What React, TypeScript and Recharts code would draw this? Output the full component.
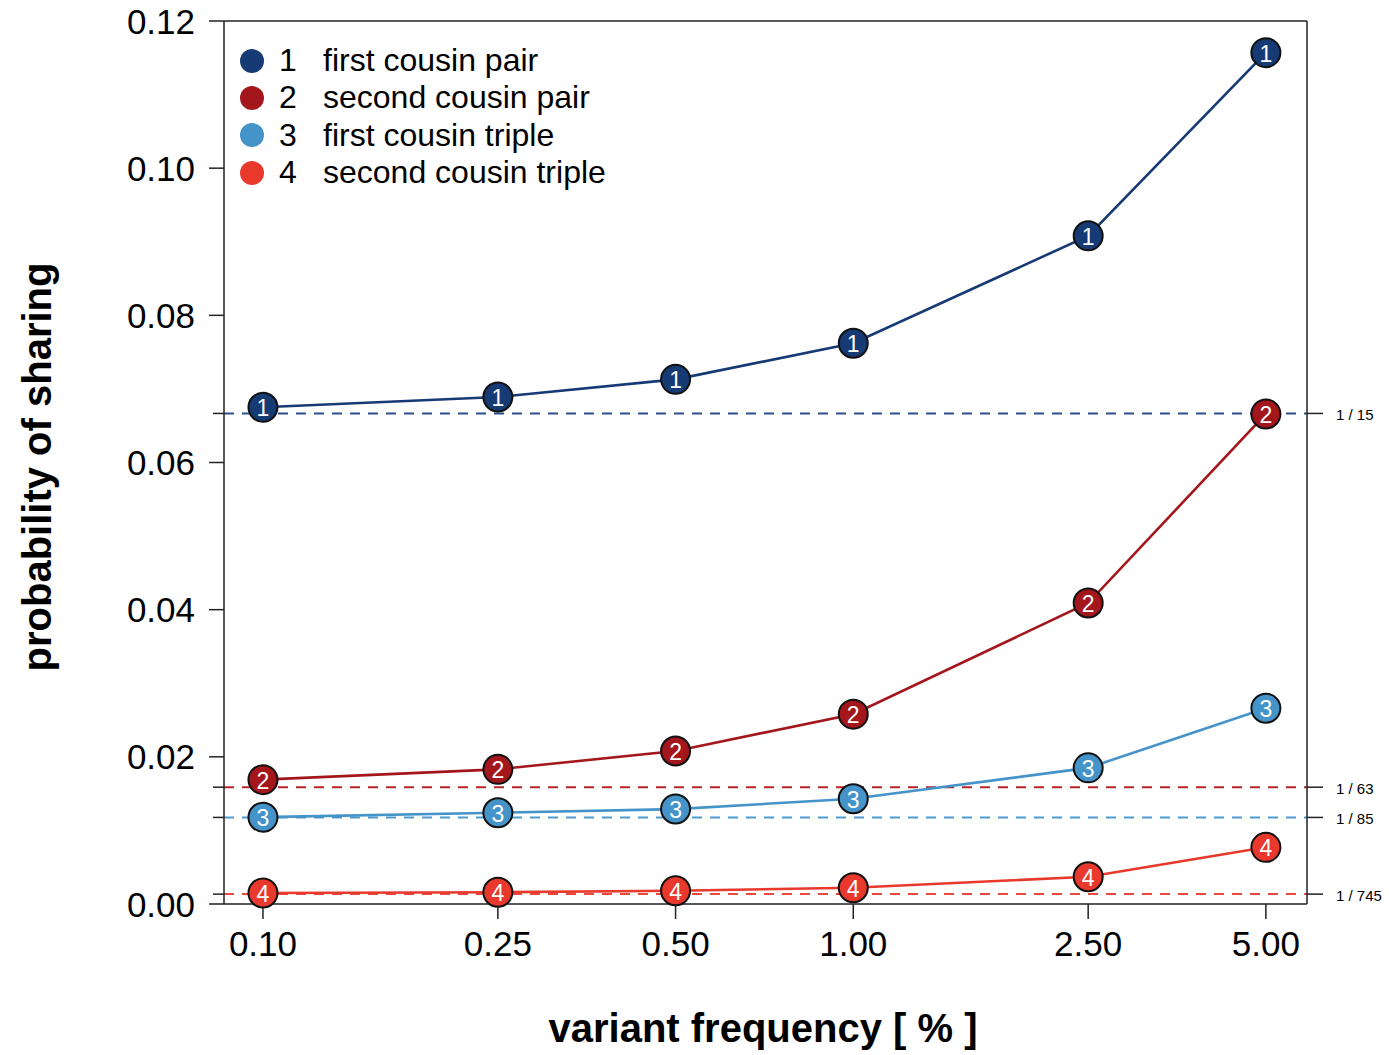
import { LineChart, Line, XAxis, YAxis, ReferenceLine, Legend } from 'recharts'

const freqs = [0.1, 0.25, 0.5, 1, 2.5, 5]
const firstCousinPair = [0.0675, 0.0689, 0.0713, 0.0762, 0.0908, 0.1157]
const secondCousinPair = [0.0169, 0.0183, 0.0208, 0.0258, 0.0409, 0.0666]
const firstCousinTriple = [0.0118, 0.0124, 0.0129, 0.0143, 0.0185, 0.0266]
const secondCousinTriple = [0.0015, 0.0016, 0.0018, 0.0022, 0.0037, 0.0077]

const yTicks = [0, 0.02, 0.04, 0.06, 0.08, 0.1, 0.12]
const refDenoms = [15, 63, 85, 745]
const refValues = refDenoms.map((d) => 1 / d)

const seriesNames = ['first cousin pair', 'second cousin pair', 'first cousin triple', 'second cousin triple']
const seriesKeys = ['s1', 's2', 's3', 's4']
const colors = ['#163a74', '#a3161c', '#4493c9', '#e8392c']
const refColors = ['#2c4d8c', '#b5252a', '#4c9bd0', '#ea4a3e']

const data = freqs.map((f, i) => ({
  freq: f,
  s1: firstCousinPair[i],
  s2: secondCousinPair[i],
  s3: firstCousinTriple[i],
  s4: secondCousinTriple[i],
}))

const FONT = '"Liberation Sans", Arial, Helvetica, sans-serif'

function fmt2(v: number) {
  return v.toFixed(2)
}

function LeftTick(props: any) {
  const { x, y, payload } = props
  const v = payload.value as number
  const major = yTicks.some((t) => Math.abs(t - v) < 1e-9)
  if (!major) {
    return <line x1={x + 4} x2={x + 15} y1={y} y2={y} stroke="#222" strokeWidth={1.5} />
  }
  return (
    <g>
      <line x1={x} x2={x + 15} y1={y} y2={y} stroke="#222" strokeWidth={1.5} />
      <text x={x - 14} y={y} textAnchor="end" dominantBaseline="central" fontSize={35} fill="#000" fontFamily={FONT}>
        {fmt2(v)}
      </text>
    </g>
  )
}

// right-hand tick + "1 / n" label for each dashed reference line
function RefLabel(props: any) {
  const { viewBox, value } = props
  if (!viewBox) return null
  const xr = viewBox.x + viewBox.width
  const y = viewBox.y
  return (
    <g>
      <line x1={xr} x2={xr + 16} y1={y} y2={y} stroke="#222" strokeWidth={1.5} />
      <text x={xr + 29} y={y + 1} dominantBaseline="central" fontSize={15} fill="#000" fontFamily={FONT}>
        {value}
      </text>
    </g>
  )
}

function makeDot(n: number) {
  return (props: any) => {
    const { cx, cy, index } = props
    if (cx == null || cy == null) return <g key={`d${n}-${index}`} />
    return (
      <g key={`d${n}-${index}`}>
        <circle cx={cx} cy={cy} r={14.5} fill={colors[n - 1]} stroke="#111" strokeWidth={2} />
        <text x={cx} y={cy + 1} textAnchor="middle" dominantBaseline="central" fontSize={23} fill="#fff" fontFamily={FONT}>
          {n}
        </text>
      </g>
    )
  }
}

function LegendBox() {
  return (
    <div style={{ fontFamily: FONT, fontSize: 32, color: '#000' }}>
      {seriesNames.map((name, i) => (
        <div key={name} style={{ display: 'flex', alignItems: 'center', height: 37.3 }}>
          <span style={{ width: 24, height: 24, borderRadius: 12, background: colors[i], display: 'inline-block' }} />
          <span style={{ width: 32, marginLeft: 15 }}>{i + 1}</span>
          <span style={{ marginLeft: 12 }}>{name}</span>
        </div>
      ))}
    </div>
  )
}

export default function App() {
  return (
    <div style={{ position: 'absolute', left: 0, top: 0, width: 1389, height: 1055, background: '#fff', fontFamily: FONT }}>
      <LineChart width={1389} height={1055} data={data} margin={{ top: 20, right: 0, bottom: 91, left: 100 }}>
        <XAxis
          dataKey="freq"
          type="number"
          scale="log"
          domain={[0.0859, 5.87]}
          allowDataOverflow
          ticks={freqs}
          interval={0}
          tickFormatter={fmt2}
          tickSize={15}
          tickMargin={12}
          height={60}
          stroke="#222"
          tick={{ fontSize: 35, fill: '#000', fontFamily: FONT }}
          axisLine={{ stroke: '#222', strokeWidth: 1.5 }}
          tickLine={{ stroke: '#222', strokeWidth: 1.5 }}
        />
        <XAxis
          xAxisId="top"
          orientation="top"
          dataKey="freq"
          type="number"
          scale="log"
          domain={[0.0859, 5.87]}
          allowDataOverflow
          height={1}
          tick={false}
          tickLine={false}
          axisLine={{ stroke: '#222', strokeWidth: 1.5 }}
        />
        <YAxis
          yAxisId="left"
          type="number"
          domain={[0, 0.12]}
          ticks={[...yTicks, ...refValues]}
          interval={0}
          width={124}
          tickSize={15}
          tickMargin={0}
          tickLine={false}
          tick={<LeftTick />}
          axisLine={{ stroke: '#222', strokeWidth: 1.5 }}
        />
        <YAxis
          yAxisId="right"
          orientation="right"
          type="number"
          domain={[0, 0.12]}
          width={82}
          tick={false}
          tickLine={false}
          axisLine={{ stroke: '#222', strokeWidth: 1.5 }}
        />
        {refValues.map((v, i) => (
          <ReferenceLine
            key={refDenoms[i]}
            yAxisId="left"
            y={v}
            stroke={refColors[i]}
            strokeWidth={2}
            strokeDasharray="10 8"
            label={<RefLabel value={`1 / ${refDenoms[i]}`} />}
          />
        ))}
        {seriesKeys.map((k, i) => (
          <Line
            key={k}
            yAxisId="left"
            dataKey={k}
            name={seriesNames[i]}
            type="linear"
            stroke={colors[i]}
            strokeWidth={2.6}
            dot={makeDot(i + 1)}
            activeDot={false}
            isAnimationActive={false}
          />
        ))}
        <Legend
          layout="vertical"
          align="center"
          verticalAlign="middle"
          content={<LegendBox />}
          wrapperStyle={{ position: 'absolute', left: 240, top: 42, width: 440 }}
        />
      </LineChart>
      <div
        style={{
          position: 'absolute',
          left: 0,
          top: 1005,
          width: 1526,
          textAlign: 'center',
          fontWeight: 'bold',
          fontSize: 40,
          lineHeight: '46px',
        }}
      >
        variant frequency [ % ]
      </div>
      <div
        style={{
          position: 'absolute',
          left: 37,
          top: 467,
          transform: 'translate(-50%, -50%) rotate(-90deg)',
          whiteSpace: 'nowrap',
          fontWeight: 'bold',
          fontSize: 40,
          lineHeight: '46px',
        }}
      >
        probability of sharing
      </div>
    </div>
  )
}
